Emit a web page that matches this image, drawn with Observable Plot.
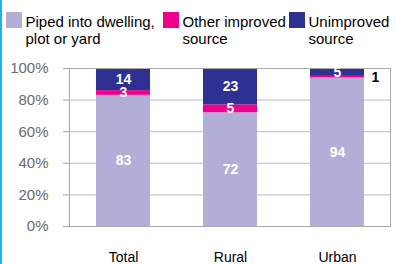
<!DOCTYPE html>
<html><head><meta charset="utf-8">
<script src="https://cdn.jsdelivr.net/npm/d3@7"></script>
<script src="https://cdn.jsdelivr.net/npm/@observablehq/plot@0.6"></script>
<style>
body{margin:0;background:#fff;font-family:"Liberation Sans",Arial,sans-serif;}
#wrap{position:relative;width:396px;height:264px;overflow:hidden;background:#fff;}
#edge{position:absolute;left:0;top:0;width:2px;height:264px;background:#1cb4f0;z-index:5;}
#legend{position:absolute;top:0;left:0;width:396px;height:50px;}
.item{position:absolute;top:12px;display:flex;align-items:flex-start;}
.sw{width:16px;height:16px;position:relative;z-index:2;flex:none;}
.lab{margin-left:3.5px;font-size:15px;line-height:17px;color:#000;white-space:nowrap;position:relative;z-index:1;margin-top:0.5px;}
#chart{position:absolute;top:50px;left:0;}
</style>
</head><body>
<div id="wrap"><div id="edge"></div><div id="legend"></div><div id="chart"></div></div>
<script>
const categories = ["Total", "Rural", "Urban"];
const series = ["Piped into dwelling, plot or yard", "Other improved source", "Unimproved source"];
const legendLines = [["Piped into dwelling,", "plot or yard"], ["Other improved", "source"], ["Unimproved", "source"]];
const piped = [83, 72, 94];
const otherImproved = [3, 5, 1];
const unimproved = [14, 23, 5];
const colors = ["#b3aed8", "#ec008c", "#2e3192"];
const yTicks = [0, 20, 40, 60, 80, 100];
const outsideLabels = [["Urban", "Other improved source"]];

const valuesBySeries = [piped, otherImproved, unimproved];
const rows = [];
categories.forEach((c, i) => {
  series.forEach((s, j) => {
    const outside = outsideLabels.some(([oc, os]) => oc === c && os === s);
    rows.push({cat: c, series: s, value: valuesBySeries[j][i], outside});
  });
});

// legend
const legendLefts = ["6px", "163px", "289px"];
const lg = document.getElementById("legend");
series.forEach((s, j) => {
  const it = document.createElement("div");
  it.className = "item";
  it.style.left = legendLefts[j];
  it.style.zIndex = String(j + 1);
  const sw = document.createElement("div");
  sw.className = "sw";
  sw.style.background = colors[j];
  const lab = document.createElement("div");
  lab.className = "lab";
  lab.innerHTML = legendLines[j].join("<br>");
  it.appendChild(sw); it.appendChild(lab);
  lg.appendChild(it);
});

const stackOpts = {x: "cat", y: "value", order: series, z: "series"};
const chart = Plot.plot({
  width: 396, height: 214,
  marginTop: 18, marginBottom: 38, marginLeft: 69, marginRight: 6,
  style: {fontFamily: "'Liberation Sans', Arial, sans-serif", background: "transparent"},
  x: {domain: categories, paddingInner: 0.5, paddingOuter: 0.25, label: null},
  y: {domain: [0, 100], label: null},
  color: {domain: series, range: colors},
  marks: [
    Plot.gridY(yTicks, {stroke: "#bdbdbd", strokeOpacity: 1}),
    Plot.barY(rows, Plot.stackY({...stackOpts, fill: "series"})),
    Plot.frame({stroke: "#a9a9a9"}),
    Plot.text(rows, Plot.stackY({...stackOpts, text: d => d.outside ? "" : String(d.value), fill: "white", fontWeight: "bold", fontSize: 14})),
    Plot.text(rows, Plot.stackY({...stackOpts, text: d => d.outside ? String(d.value) : "", fill: "black", fontWeight: "bold", fontSize: 14, dx: 38})),
    Plot.axisY(yTicks, {tickFormat: d => d + "%", tickSize: 6, tickPadding: 15, fontSize: 15, fill: "#6b6b6b", stroke: "#a0a0a0", label: null}),
    Plot.axisX({tickSize: 0, tickPadding: 26, fontSize: 14, fill: "#000", label: null})
  ]
});
document.getElementById("chart").appendChild(chart);
</script>
</body></html>
